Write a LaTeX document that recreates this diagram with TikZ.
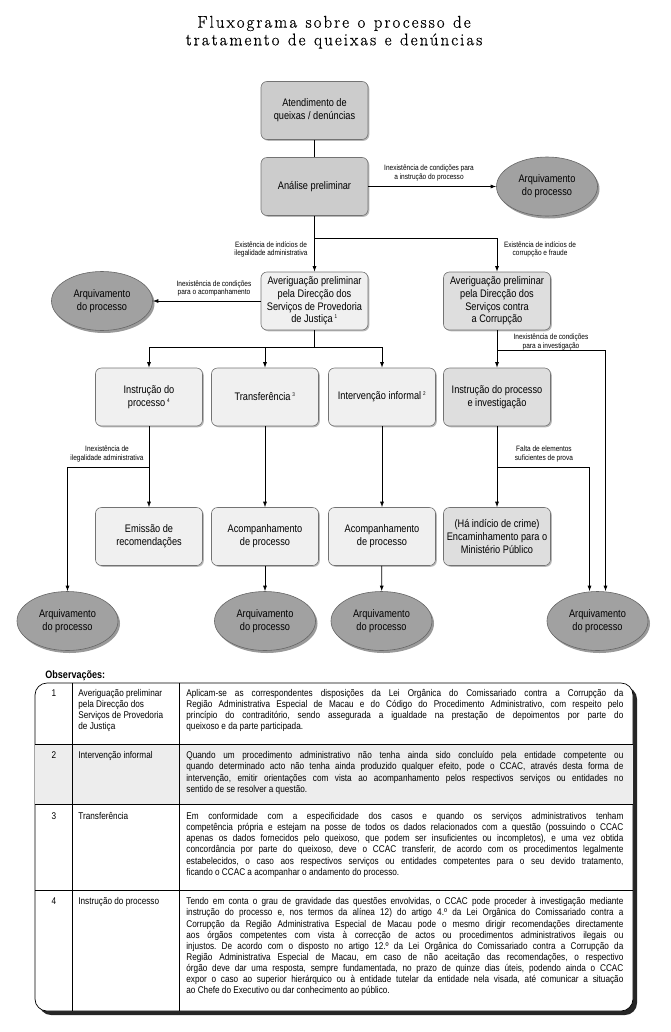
\documentclass[tikz,border=0pt]{standalone}
\usepackage{fontspec}
\newfontfamily\narrowsans[FakeStretch=0.84]{Liberation Sans}
\newfontfamily\titleserif[LetterSpace=12, FakeBold=0.6]{Latin Modern Roman}
\usetikzlibrary{arrows.meta,shapes.geometric,shadows}
\frenchspacing
\newcommand{\titlefont}{\titleserif\fontsize{17}{17.7}\selectfont\spaceskip=0.5em plus 0.1em}
\newcommand{\boxfont}{\narrowsans\fontsize{11}{12.8}\selectfont}
\newcommand{\lblfont}{\narrowsans\fontsize{7.8}{8.8}\selectfont}
\newcommand{\tabfont}{\narrowsans\fontsize{9.8}{11.1}\selectfont}
\newcommand{\supnum}[1]{\,\textsuperscript{\fontsize{5.5}{6}\selectfont #1}}
\newcommand{\fullline}[1]{\makebox[437bp][s]{#1}}
\begin{document}
\begin{tikzpicture}[x=1bp, y=-1bp, line width=0.8bp,
  arr/.style={-{Latex[length=5.5bp,width=4bp]}},
  box/.style={draw=black!55, line width=0.6bp, rounded corners=6bp, minimum width=107bp,
    minimum height=58bp, align=center, font=\boxfont, inner sep=1bp,
    drop shadow={shadow xshift=1.3bp, shadow yshift=-1.3bp, fill=black!55}},
  topbox/.style={box, fill=black!20},
  dsjbox/.style={box, fill=black!6},
  ccacbox/.style={box, fill=black!13},
  archive/.style={ellipse, draw=black!60, line width=0.6bp, fill=black!37, minimum width=101bp,
    minimum height=59bp, align=center, font=\boxfont, inner sep=0pt,
    drop shadow={shadow xshift=2bp, shadow yshift=-2.5bp, fill=black!80}},
  lbl/.style={font=\lblfont, align=center, inner sep=0pt},
  cell/.style={font=\tabfont, anchor=north west, align=left, inner sep=0pt}]
\useasboundingbox (0,0) rectangle (671,1032);
\node[font=\titlefont, align=center, anchor=north, inner sep=0pt] (title) at (334,15.5) {Fluxograma sobre o processo de\\tratamento de queixas e denúncias};
\node[topbox] (atend) at (314.5,110.5) {Atendimento de\\queixas / denúncias};
\node[topbox] (anal) at (314.5,186.5) {Análise preliminar};
\node[archive] (arqa) at (547,186.5) {Arquivamento\\do processo};
\node[dsjbox] (dsj) at (314.5,301) {Averiguação preliminar\\pela Direcção dos\\Serviços de Provedoria\\de Justiça\supnum{1}};
\node[ccacbox] (ccac) at (497,301) {Averiguação preliminar\\pela Direcção dos\\Serviços contra\\a Corrupção};
\node[archive] (arqb) at (102,301) {Arquivamento\\do processo};
\node[dsjbox] (instr) at (149,397) {Instrução do\\processo\supnum{4}};
\node[dsjbox] (transf) at (265,397) {Transferência\supnum{3}};
\node[dsjbox] (interv) at (382,397) {Intervenção informal\supnum{2}};
\node[ccacbox] (invest) at (497,397) {Instrução do processo\\e investigação};
\node[dsjbox] (recom) at (149,536.5) {Emissão de\\recomendações};
\node[dsjbox] (acompa) at (265,536.5) {Acompanhamento\\de processo};
\node[dsjbox] (acompb) at (382,536.5) {Acompanhamento\\de processo};
\node[ccacbox] (minpub) at (497,536.5) {(Há indício de crime)\\Encaminhamento para o\\Ministério Público};
\node[archive] (arqc) at (67.5,621) {Arquivamento\\do processo};
\node[archive] (arqd) at (265,621) {Arquivamento\\do processo};
\node[archive] (arqe) at (381.5,621) {Arquivamento\\do processo};
\node[archive] (arqf) at (597.5,621) {Arquivamento\\do processo};
\coordinate (ja) at (314.5,238);
\coordinate (jb) at (314.5,347);
\coordinate (jc) at (497,350);
\coordinate (jd) at (149,467);
\coordinate (je) at (497,467);
\draw (atend) -- (anal);
\draw[arr] (anal) -- (arqa);
\draw[arr] (anal) -- (dsj);
\draw[arr] (ja) -| (ccac);
\draw[arr] (dsj) -- (arqb);
\draw (dsj) -- (jb);
\draw[arr] (jb) -| (instr);
\draw[arr] (jb) -| (transf);
\draw[arr] (jb) -| (interv);
\draw[arr] (ccac) -- (invest);
\draw[arr] (jc) -| ([xshift=8bp]arqf.north);
\draw[arr] (instr) -- (recom);
\draw[arr] (jd) -| (arqc);
\draw[arr] (transf) -- (acompa);
\draw[arr] (acompa) -- (arqd);
\draw[arr] (interv) -- (acompb);
\draw[arr] (acompb) -- (arqe);
\draw[arr] (invest) -- (minpub);
\draw[arr] (je) -| ([xshift=-8bp]arqf.north);
\node[lbl] (la) at (429,173) {Inexistência de condições para\\a instrução do processo};
\node[lbl] (lb) at (271,249.5) {Existência de indícios de\\ilegalidade administrativa};
\node[lbl] (lc) at (540,249.5) {Existência de indícios de\\corrupção e fraude};
\node[lbl] (ld) at (214,288.5) {Inexistência de condições\\para o acompanhamento};
\node[lbl] (le) at (551,342) {Inexistência de condições\\para a investigação};
\node[lbl] (lf) at (107,454) {Inexistência de\\ilegalidade administrativa};
\node[lbl] (lg) at (544,454) {Falta de elementos\\suficientes de prova};
\node[font=\narrowsans\fontsize{10.8}{12}\selectfont\bfseries, anchor=base west, inner sep=0pt] (obs) at (45,678) {Observações:};
\fill[black!85, rounded corners=12bp] (39,687) rectangle (637,1015);
\draw[fill=white, rounded corners=12bp, line width=0.7bp] (35,683) rectangle (633,1011);
\fill[black!7] (35.4,744) rectangle (632.6,804);
\draw[line width=0.7bp] (35,744) -- (633,744) (35,804) -- (633,804) (35,890) -- (633,890);
\draw[line width=0.7bp] (72,683) -- (72,1011) (179,683) -- (179,1011);
\node[cell, anchor=north] (numa) at (54,689) {1};
\node[cell, anchor=north] (numb) at (54,751.3) {2};
\node[cell, anchor=north] (numc) at (54,812.3) {3};
\node[cell, anchor=north] (numd) at (54,897.3) {4};
\node[cell] (nama) at (78,689) {Averiguação preliminar\\pela Direcção dos\\Serviços de Provedoria\\de Justiça};
\node[cell] (namb) at (78,751.3) {Intervenção informal};
\node[cell] (namc) at (78,812.3) {Transferência};
\node[cell] (namd) at (78,897.3) {Instrução do processo};
\node[cell] (texa) at (186,689) {\fullline{Aplicam-se as correspondentes disposições da Lei Orgânica do Comissariado contra a Corrupção da}\\
\fullline{Região Administrativa Especial de Macau e do Código do Procedimento Administrativo, com respeito pelo}\\
\fullline{princípio do contraditório, sendo assegurada a igualdade na prestação de depoimentos por parte do}\\
queixoso e da parte participada.};
\node[cell] (texb) at (186,751.3) {\fullline{Quando um procedimento administrativo não tenha ainda sido concluído pela entidade competente ou}\\
\fullline{quando determinado acto não tenha ainda produzido qualquer efeito, pode o CCAC, através desta forma de}\\
\fullline{intervenção, emitir orientações com vista ao acompanhamento pelos respectivos serviços ou entidades no}\\
sentido de se resolver a questão.};
\node[cell] (texc) at (186,812.3) {\fullline{Em conformidade com a especificidade dos casos e quando os serviços administrativos tenham}\\
\fullline{competência própria e estejam na posse de todos os dados relacionados com a questão (possuindo o CCAC}\\
\fullline{apenas os dados fornecidos pelo queixoso, que podem ser insuficientes ou incompletos), e uma vez obtida}\\
\fullline{concordância por parte do queixoso, deve o CCAC transferir, de acordo com os procedimentos legalmente}\\
\fullline{estabelecidos, o caso aos respectivos serviços ou entidades competentes para o seu devido tratamento,}\\
ficando o CCAC a acompanhar o andamento do processo.};
\node[cell] (texd) at (186,897.3) {\fullline{Tendo em conta o grau de gravidade das questões envolvidas, o CCAC pode proceder à investigação mediante}\\
\fullline{instrução do processo e, nos termos da alínea 12) do artigo 4.º da Lei Orgânica do Comissariado contra a}\\
\fullline{Corrupção da Região Administrativa Especial de Macau pode o mesmo dirigir recomendações directamente}\\
\fullline{aos órgãos competentes com vista à correcção de actos ou procedimentos administrativos ilegais ou}\\
\fullline{injustos. De acordo com o disposto no artigo 12.º da Lei Orgânica do Comissariado contra a Corrupção da}\\
\fullline{Região Administrativa Especial de Macau, em caso de não aceitação das recomendações, o respectivo}\\
\fullline{órgão deve dar uma resposta, sempre fundamentada, no prazo de quinze dias úteis, podendo ainda o CCAC}\\
\fullline{expor o caso ao superior hierárquico ou à entidade tutelar da entidade nela visada, até comunicar a situação}\\
ao Chefe do Executivo ou dar conhecimento ao público.};
\end{tikzpicture}
\end{document}
